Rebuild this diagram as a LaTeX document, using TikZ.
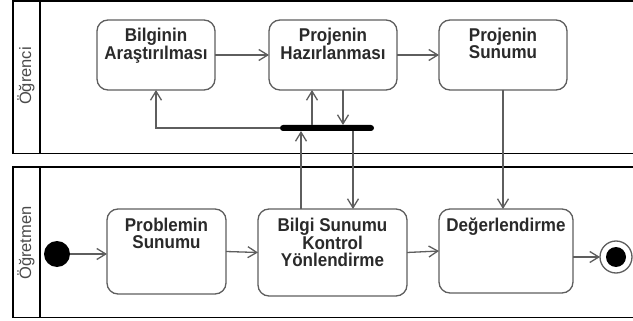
\documentclass[tikz,border=0pt]{standalone}
\usepackage{fontspec}
\setmainfont{Liberation Sans}
\newfontfamily\actfont[FakeStretch=0.92]{Liberation Sans}
\usetikzlibrary{arrows.meta}
\definecolor{edge}{HTML}{5E5E5E}
\definecolor{txt}{HTML}{2A2A2A}
\tikzset{
  act/.style={draw=edge, line width=1.3pt, rounded corners=11pt, inner sep=0pt, outer sep=0pt, fill=white},
  lbl/.style={anchor=north, align=center, inner sep=0pt, text=txt, font=\actfont\bfseries\fontsize{18.5}{17}\selectfont},
  lanelbl/.style={rotate=90, inner sep=0pt, text=txt!85, font=\fontsize{16.5}{18}\selectfont},
  lane/.style={draw=black, line width=1.8pt},
  arr/.style={draw=edge, line width=1.3pt, -{Straight Barb[length=9pt,width=11pt,line width=1.3pt]}},
}
\begin{document}
\begin{tikzpicture}[x=1pt,y=-1pt]
\useasboundingbox (0,0) rectangle (633,321);
% lanes
\draw[lane] (640,1) -- (13,1) -- (13,153.5) -- (640,153.5);
\draw[lane] (40,1) -- (40,153.5);
\draw[lane] (640,167) -- (13,167) -- (13,317.5) -- (640,317.5);
\draw[lane] (40,167) -- (40,317.5);
\node[lanelbl] (l1) at (26,76) {Öğrenci};
\node[lanelbl] (l2) at (26,243) {Öğretmen};
% activities
\node[act, minimum width=118pt, minimum height=70pt] (b1) at (156,55) {};
\node[act, minimum width=128pt, minimum height=70pt] (b2) at (333,55) {};
\node[act, minimum width=128pt, minimum height=70pt] (b3) at (503,55) {};
\node[act, minimum width=119pt, minimum height=85pt] (b4) at (166.5,251.5) {};
\node[act, minimum width=149pt, minimum height=87pt] (b5) at (332.5,252.5) {};
\node[act, minimum width=134pt, minimum height=84pt] (b6) at (506,251) {};
\node[lbl] (t1) at ([yshift=-8pt]b1.north) {Bilginin\\Araştırılması};
\node[lbl] (t2) at ([yshift=-8pt]b2.north) {Projenin\\Hazırlanması};
\node[lbl] (t3) at ([yshift=-8pt]b3.north) {Projenin\\Sunumu};
\node[lbl] (t4) at ([yshift=-8.5pt]b4.north) {Problemin\\Sunumu};
\node[lbl] (t5) at ([yshift=-8.5pt]b5.north) {Bilgi Sunumu\\Kontrol\\Yönlendirme};
\node[lbl] (t6) at ([yshift=-8.5pt]b6.north) {Değerlendirme};
% fork bar
\node[fill=black, rounded corners=3pt, minimum width=94pt, minimum height=6pt, inner sep=0pt, outer sep=0pt] (fork) at (327,128) {};
% initial / final
\node[circle, fill=black, minimum size=26pt, inner sep=0pt, outer sep=0pt] (init) at (57,254) {};
\node[circle, draw=edge, line width=1.3pt, fill=white, minimum size=32pt, inner sep=0pt, outer sep=0pt] (fin) at (616,257) {};
\node[circle, fill=black, minimum size=20pt, inner sep=0pt] (finin) at (fin) {};
% coordinates on boxes
\coordinate (b2up) at ([xshift=-21pt]b2.south);
\coordinate (b2dn) at ([xshift=10pt]b2.south);
\coordinate (b5up) at ([xshift=-31.5pt]b5.north);
\coordinate (b5dn) at ([xshift=20.5pt]b5.north);
% connectors
\draw[arr] (b1.east) -- (b2.west);
\draw[arr] (b2.east) -- (b3.west);
\draw[arr] (fork.west) -| (b1.south);
\draw[arr] (b2up |- fork.north) -- (b2up);
\draw[arr] (b2dn) -- (b2dn |- fork.north);
\draw[arr] (b5up) -- (b5up |- fork.south);
\draw[arr] (b5dn |- fork.south) -- (b5dn);
\draw[arr] (b3.south) -- (b3.south |- b6.north);
\draw[arr] (init.east) -- (init.east -| b4.west);
\draw[arr] (b4.east) -- (b5.west);
\draw[arr] (b5.east) -- (b6.west);
\draw[arr] (b6.east |- fin.west) -- (fin.west);
\end{tikzpicture}
\end{document}
